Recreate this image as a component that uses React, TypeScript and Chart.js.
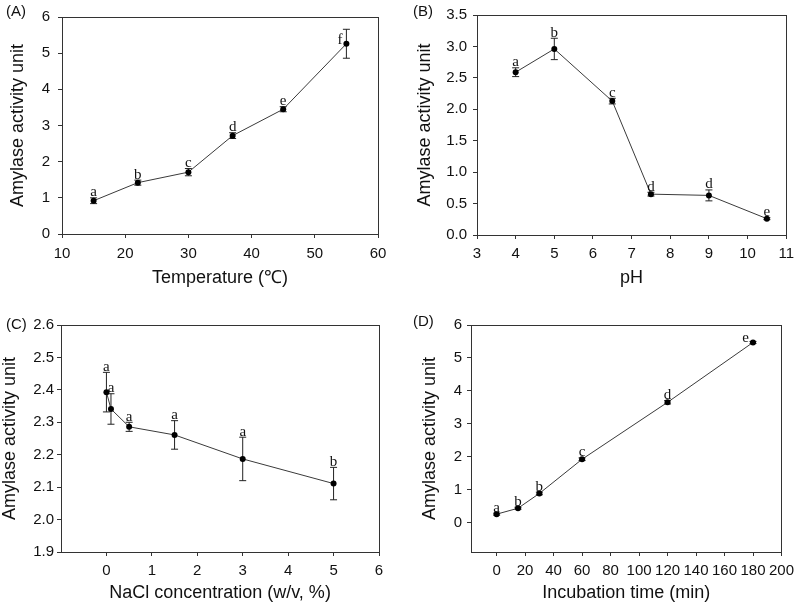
import React, { useEffect, useRef } from 'react';
import { Chart, registerables } from 'chart.js';

Chart.register(...registerables);

// ---------- DATA ----------
const tempX = [15, 22, 30, 37, 45, 55];
const tempY = [0.92, 1.42, 1.71, 2.72, 3.45, 5.26];
const tempErr = [0.08, 0.07, 0.1, 0.08, 0.07, 0.4];
const tempLetters = ['a', 'b', 'c', 'd', 'e', 'f'];
const tempTicksX = [10, 20, 30, 40, 50, 60];
const tempTicksY = [0, 1, 2, 3, 4, 5, 6];

const phX = [4, 5, 6.5, 7.5, 9, 10.5];
const phY = [2.59, 2.96, 2.13, 0.65, 0.63, 0.26];
const phErr = [0.07, 0.17, 0.045, 0.03, 0.087, 0.015];
const phLetters = ['a', 'b', 'c', 'd', 'd', 'e'];
const phTicksX = [3, 4, 5, 6, 7, 8, 9, 10, 11];
const phTicksY = [0, 0.5, 1, 1.5, 2, 2.5, 3, 3.5];

const naclX = [0, 0.1, 0.5, 1.5, 3, 5];
const naclY = [2.393, 2.341, 2.286, 2.261, 2.187, 2.111];
const naclErr = [0.061, 0.047, 0.014, 0.044, 0.067, 0.05];
const naclLetters = ['a', 'a', 'a', 'a', 'a', 'b'];
const naclTicksX = [0, 1, 2, 3, 4, 5, 6];
const naclTicksY = [1.9, 2.0, 2.1, 2.2, 2.3, 2.4, 2.5, 2.6];

const timeX = [0, 15, 30, 60, 120, 180];
const timeY = [0.25, 0.43, 0.88, 1.92, 3.65, 5.47];
const timeErr = [0.03, 0.03, 0.04, 0.04, 0.05, 0.03];
const timeLetters = ['a', 'b', 'b', 'c', 'd', 'e'];
const timeTicksX = [0, 20, 40, 60, 80, 100, 120, 140, 160, 180, 200];
const timeTicksY = [0, 1, 2, 3, 4, 5, 6];

// ---------- LAYOUT / STYLE ----------
const SANS = '"Liberation Sans", Arial, sans-serif';
const SERIF = '"Liberation Serif", "Times New Roman", serif';
const INK = '#111';
const FRAME = '#333';

type Panel = {
  tag: string;
  xs: number[]; ys: number[]; errs: number[]; letters: string[];
  ticksX: number[]; ticksY: number[];
  xMin: number; xMax: number; yMin: number; yMax: number;
  decX: number; decY: number;
  xTitle: string; yTitle: string;
  ox: number; oy: number; w: number; h: number;
  plot: { l: number; t: number; r: number; b: number };
  yTitleX: number; xTitleY: number;
  yTickPad: number; xTickPad: number;
  tagPos: [number, number];
  leftLetter: number; // index of letter drawn left of its point (-1 none)
};

const panels: Panel[] = [
  {
    tag: '(A)', xs: tempX, ys: tempY, errs: tempErr, letters: tempLetters,
    ticksX: tempTicksX, ticksY: tempTicksY,
    xMin: 10, xMax: 60, yMin: 0, yMax: 6, decX: 0, decY: 0,
    xTitle: 'Temperature (\u2103)', yTitle: 'Amylase activity unit',
    ox: 0, oy: 0, w: 400, h: 300,
    plot: { l: 62, t: 7, r: 378, b: 234 },
    yTitleX: 18.3, xTitleY: 278.5, yTickPad: 8, xTickPad: 7,
    tagPos: [6, 12], leftLetter: 5,
  },
  {
    tag: '(B)', xs: phX, ys: phY, errs: phErr, letters: phLetters,
    ticksX: phTicksX, ticksY: phTicksY,
    xMin: 3, xMax: 11, yMin: 0, yMax: 3.5, decX: 0, decY: 1,
    xTitle: 'pH', yTitle: 'Amylase activity unit',
    ox: 400, oy: 0, w: 400, h: 300,
    plot: { l: 477, t: 7, r: 791, b: 235 },
    yTitleX: 425, xTitleY: 278.5, yTickPad: 6, xTickPad: 6,
    tagPos: [413, 12], leftLetter: -1,
  },
  {
    tag: '(C)', xs: naclX, ys: naclY, errs: naclErr, letters: naclLetters,
    ticksX: naclTicksX, ticksY: naclTicksY,
    xMin: -1, xMax: 6, yMin: 1.9, yMax: 2.6, decX: 0, decY: 1,
    xTitle: 'NaCl concentration (w/v, %)', yTitle: 'Amylase activity unit',
    ox: 0, oy: 300, w: 400, h: 309,
    plot: { l: 61, t: 325, r: 379, b: 552 },
    yTitleX: 10, xTitleY: 593, yTickPad: 3, xTickPad: 6,
    tagPos: [6, 325], leftLetter: -1,
  },
  {
    tag: '(D)', xs: timeX, ys: timeY, errs: timeErr, letters: timeLetters,
    ticksX: timeTicksX, ticksY: timeTicksY,
    xMin: -18, xMax: 200, yMin: -0.9, yMax: 6, decX: 0, decY: 0,
    xTitle: 'Incubation time (min)', yTitle: 'Amylase activity unit',
    ox: 400, oy: 300, w: 400, h: 309,
    plot: { l: 471, t: 325, r: 787, b: 552 },
    yTitleX: 430, xTitleY: 593, yTickPad: 5, xTickPad: 6,
    tagPos: [413, 322], leftLetter: 5,
  },
];

const TITLE_SIZE = 18;
const TICK_SIZE = 15;
const TICK_LEN = 4;

function makeChart(canvas: HTMLCanvasElement, p: Panel) {
  const yw = p.plot.l - p.ox;
  const xh = p.oy + p.h - p.plot.b;
  const overlay = {
    id: 'overlay_' + p.tag,
    beforeDatasetsDraw(chart: any) {
      const ctx = chart.ctx;
      const xs = chart.scales.x;
      const ys = chart.scales.y;
      ctx.save();
      ctx.strokeStyle = '#222';
      ctx.lineWidth = 1;
      p.xs.forEach((xv, i) => {
        const px = xs.getPixelForValue(xv);
        const top = ys.getPixelForValue(p.ys[i] + p.errs[i]);
        const bot = ys.getPixelForValue(p.ys[i] - p.errs[i]);
        ctx.beginPath();
        ctx.moveTo(px, top); ctx.lineTo(px, bot);
        ctx.moveTo(px - 3.5, top); ctx.lineTo(px + 3.5, top);
        ctx.moveTo(px - 3.5, bot); ctx.lineTo(px + 3.5, bot);
        ctx.stroke();
      });
      ctx.restore();
    },
    afterDraw(chart: any) {
      const ctx = chart.ctx;
      const a = chart.chartArea;
      const xs = chart.scales.x;
      const ys = chart.scales.y;
      ctx.save();
      ctx.strokeStyle = FRAME;
      ctx.lineWidth = 1;
      ctx.strokeRect(Math.round(a.left) + 0.5, Math.round(a.top) + 0.5,
        Math.round(a.right - a.left), Math.round(a.bottom - a.top));
      // letters
      ctx.fillStyle = INK;
      ctx.font = `15px ${SERIF}`;
      p.letters.forEach((L, i) => {
        const px = xs.getPixelForValue(p.xs[i]);
        if (i === p.leftLetter) {
          const py = ys.getPixelForValue(p.ys[i]);
          ctx.textAlign = 'right';
          ctx.textBaseline = 'middle';
          ctx.fillText(L, px - 4, py - 4);
        } else {
          const top = ys.getPixelForValue(p.ys[i] + p.errs[i]);
          ctx.textAlign = 'center';
          ctx.textBaseline = 'alphabetic';
          ctx.fillText(L, px, top - 1.5);
        }
      });
      // panel tag
      ctx.font = `15px ${SANS}`;
      ctx.textAlign = 'left';
      ctx.textBaseline = 'middle';
      ctx.fillText(p.tag, p.tagPos[0] - p.ox, p.tagPos[1] - p.oy);
      ctx.restore();
    },
  };

  const axisCommon = {
    type: 'linear' as const,
    border: { display: true, color: FRAME, width: 1 },
    grid: { display: true, drawOnChartArea: false, drawTicks: true, tickLength: TICK_LEN, color: FRAME, lineWidth: 1 },
  };

  return new Chart(canvas, {
    type: 'line',
    data: {
      datasets: [{
        data: p.xs.map((x, i) => ({ x, y: p.ys[i] })),
        borderColor: '#3a3a3a',
        borderWidth: 1,
        pointRadius: 3,
        pointBackgroundColor: '#000',
        pointBorderColor: '#000',
        pointBorderWidth: 0,
        tension: 0,
        fill: false,
      }],
    },
    options: {
      animation: false,
      responsive: false,
      devicePixelRatio: 1,
      layout: {
        autoPadding: false,
        padding: { left: 0, bottom: 0, top: p.plot.t - p.oy, right: p.ox + p.w - p.plot.r },
      },
      plugins: { legend: { display: false }, tooltip: { enabled: false } },
      scales: {
        x: {
          ...axisCommon,
          position: 'bottom',
          min: p.xMin, max: p.xMax,
          afterBuildTicks: (s: any) => { s.ticks = p.ticksX.map((v) => ({ value: v })); },
          afterFit: (s: any) => { s.height = xh; },
          ticks: {
            color: INK, padding: p.xTickPad, maxRotation: 0, autoSkip: false,
            font: { family: SANS, size: TICK_SIZE },
            callback: (v: any) => Number(v).toFixed(p.decX),
          },
          title: {
            display: true, text: p.xTitle, color: INK,
            font: { family: SANS, size: TITLE_SIZE, lineHeight: 1 },
            padding: { top: 0, bottom: (p.oy + p.h) - p.xTitleY - TITLE_SIZE / 2 },
          },
        },
        y: {
          ...axisCommon,
          position: 'left',
          min: p.yMin, max: p.yMax,
          afterBuildTicks: (s: any) => { s.ticks = p.ticksY.map((v) => ({ value: v })); },
          afterFit: (s: any) => { s.width = yw; },
          ticks: {
            color: INK, padding: p.yTickPad, autoSkip: false,
            font: { family: SANS, size: TICK_SIZE },
            callback: (v: any) => Number(v).toFixed(p.decY),
          },
          title: {
            display: true, text: p.yTitle, color: INK,
            font: { family: SANS, size: TITLE_SIZE, lineHeight: 1 },
            padding: { top: p.yTitleX - p.ox - TITLE_SIZE / 2, bottom: 0 },
          },
        },
      },
    } as any,
    plugins: [overlay],
  });
}

function PanelCanvas({ p }: { p: Panel }) {
  const ref = useRef<HTMLCanvasElement | null>(null);
  useEffect(() => {
    if (!ref.current) return;
    const c = makeChart(ref.current, p);
    return () => c.destroy();
  }, [p]);
  return (
    <canvas
      ref={ref}
      width={p.w}
      height={p.h}
      style={{ position: 'absolute', left: p.ox, top: p.oy, width: p.w, height: p.h }}
    />
  );
}

export default function App() {
  return (
    <div style={{ position: 'fixed', left: 0, top: 0, width: 800, height: 609, background: '#fff' }}>
      {panels.map((p) => <PanelCanvas key={p.tag} p={p} />)}
    </div>
  );
}
